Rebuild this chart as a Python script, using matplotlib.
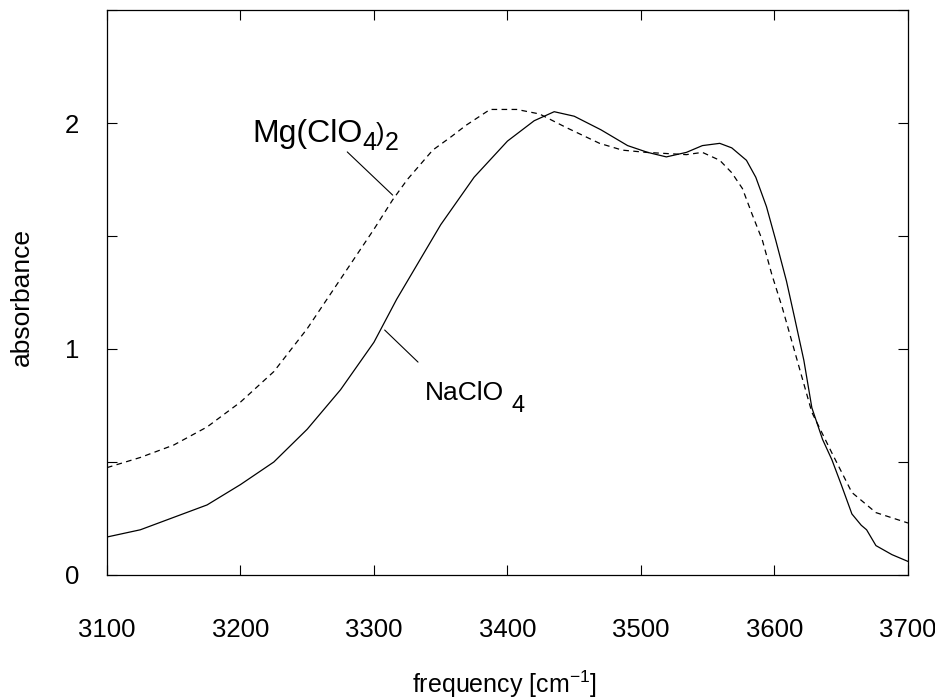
#!/usr/bin/env python3

import matplotlib
matplotlib.use("Agg")
import matplotlib.pyplot as plt
from matplotlib.ticker import MultipleLocator
from matplotlib.transforms import offset_copy

plt.rcParams["font.family"] = ["Liberation Sans", "DejaVu Sans"]
plt.rcParams["mathtext.fontset"] = "custom"
plt.rcParams["mathtext.rm"] = "Liberation Sans"
plt.rcParams["mathtext.it"] = "Liberation Sans:italic"

# NaClO4, solid line
na_freq = [3100, 3125, 3150, 3175, 3200, 3225, 3250, 3275, 3300, 3317, 3325,
           3350, 3375, 3400, 3420, 3435, 3450, 3470, 3490, 3505, 3519, 3534,
           3546, 3559, 3568, 3579, 3586, 3594, 3601, 3609, 3615, 3622, 3628,
           3636, 3643, 3650, 3658, 3665, 3669, 3676, 3688, 3700]
na_abs = [0.168, 0.20, 0.255, 0.31, 0.40, 0.50, 0.645, 0.82, 1.03, 1.22, 1.30,
          1.55, 1.76, 1.92, 2.01, 2.05, 2.03, 1.97, 1.90, 1.87, 1.85, 1.87,
          1.90, 1.91, 1.89, 1.835, 1.76, 1.63, 1.48, 1.30, 1.14, 0.95, 0.74,
          0.60, 0.51, 0.40, 0.27, 0.22, 0.20, 0.13, 0.09, 0.06]

# Mg(ClO4)2, dashed line
mg_freq = [3100, 3125, 3150, 3175, 3200, 3225, 3250, 3275, 3300, 3314, 3325,
           3344, 3358, 3369, 3387, 3407, 3424, 3444, 3469, 3486, 3504, 3534,
           3546, 3559, 3568, 3576, 3583, 3591, 3598, 3606, 3617, 3628, 3643,
           3658, 3676, 3700]
mg_abs = [0.475, 0.52, 0.575, 0.655, 0.765, 0.90, 1.09, 1.31, 1.53, 1.66, 1.75,
          1.88, 1.94, 1.99, 2.06, 2.06, 2.04, 1.98, 1.91, 1.88, 1.87, 1.86,
          1.87, 1.835, 1.78, 1.71, 1.60, 1.48, 1.33, 1.18, 0.95, 0.72, 0.54,
          0.365, 0.276, 0.23]

fig = plt.figure(figsize=(9.35, 7.0), dpi=100)
ax = fig.add_axes([0.1144, 0.1786, 0.8567, 0.8071])

ax.plot(na_freq, na_abs, color="black", lw=0.9)
ax.plot(mg_freq, mg_abs, color="black", lw=0.9, linestyle=(0, (4.5, 3.5)))

ax.set_xlim(3100, 3700)
ax.set_ylim(0, 2.5)
ax.xaxis.set_major_locator(MultipleLocator(100))
ax.yaxis.set_major_locator(MultipleLocator(1))
ax.yaxis.set_minor_locator(MultipleLocator(0.5))
ax.tick_params(which="both", direction="in", top=True, right=True,
               length=7, width=0.8, labelsize=18.5)
ax.tick_params(axis="x", pad=31)
ax.tick_params(axis="y", pad=20)
for s in ax.spines.values():
    s.set_linewidth(0.9)


def piece(x, y, s, size, dx_px, dy_px):
    # place a text piece offset (in pixels) from a data anchor
    tr = offset_copy(ax.transData, fig=fig, x=dx_px * 0.72, y=dy_px * 0.72,
                     units="points")
    ax.text(x, y, s, fontsize=size, transform=tr, va="baseline", ha="left")


# curve labels with leader lines
ax.annotate("", xy=(3314, 1.681), xytext=(3280, 1.872),
            arrowprops=dict(arrowstyle="-", color="black", lw=0.8,
                            shrinkA=0, shrinkB=0))
piece(3209, 1.916, "Mg(ClO", 23, 0, 0)
piece(3209, 1.916, "4", 18, 110, -8)
piece(3209, 1.916, ")", 18, 123, 1)
piece(3209, 1.916, "2", 18, 132, -8)

ax.annotate("", xy=(3308, 1.084), xytext=(3333, 0.942),
            arrowprops=dict(arrowstyle="-", color="black", lw=0.8,
                            shrinkA=0, shrinkB=0))
piece(3338, 0.774, "NaClO", 19, 0, 0)
piece(3338, 0.774, "4", 17, 87, -12)

fig.text(0.54, 0.023, r"frequency [cm$^{-1}$]", fontsize=18,
         ha="center", va="center")
fig.text(0.0235, 0.576, "absorbance", fontsize=19, rotation=90,
         ha="center", va="center")

fig.savefig("out.png", dpi=100)
